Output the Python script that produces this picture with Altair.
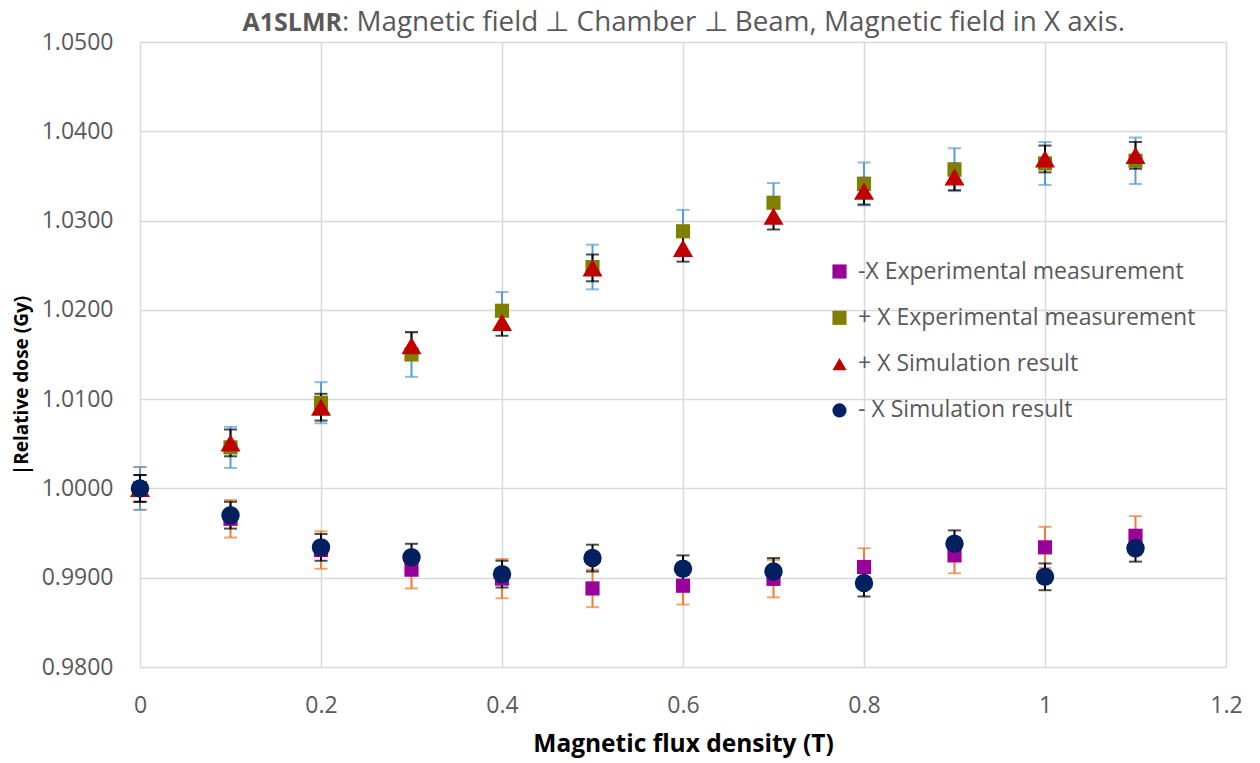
import altair as alt
import pandas as pd

x_vals = [0.0, 0.1, 0.2, 0.3, 0.4, 0.5, 0.6, 0.7, 0.8, 0.9, 1.0, 1.1]

minus_exp = [1.0000, 0.9966, 0.9931, 0.9909, 0.9899, 0.9888, 0.9891, 0.9899, 0.9912, 0.9925, 0.9934, 0.9947]
minus_exp_err = [0.0024, 0.0021, 0.0021, 0.0021, 0.0022, 0.0021, 0.0021, 0.0021, 0.0021, 0.0020, 0.0023, 0.0022]

plus_exp = [1.0000, 1.0046, 1.0096, 1.0150, 1.0199, 1.0248, 1.0288, 1.0320, 1.0341, 1.0357, 1.0364, 1.0367]
plus_exp_err = [0.0024, 0.0023, 0.0023, 0.0025, 0.0021, 0.0025, 0.0024, 0.0022, 0.0024, 0.0024, 0.0024, 0.0026]

plus_sim = [1.0000, 1.0051, 1.0091, 1.0160, 1.0186, 1.0247, 1.0269, 1.0305, 1.0333, 1.0349, 1.0369, 1.0373]
plus_sim_err = [0.0015, 0.0015, 0.0015, 0.0015, 0.0015, 0.0015, 0.0015, 0.0015, 0.0015, 0.0015, 0.0015, 0.0015]

minus_sim = [1.0000, 0.9970, 0.9934, 0.9923, 0.9904, 0.9922, 0.9910, 0.9907, 0.9894, 0.9938, 0.9901, 0.9933]
minus_sim_err = [0.0015, 0.0015, 0.0015, 0.0015, 0.0015, 0.0015, 0.0015, 0.0015, 0.0015, 0.0015, 0.0015, 0.0015]

series_names = [
    "-X Experimental measurement",
    "+ X Experimental measurement",
    "+ X Simulation result",
    "- X Simulation result",
]
marker_colors = ["#990099", "#808000", "#C00000", "#002060"]
marker_shapes = ["square", "square", "triangle-up", "circle"]
marker_sizes = [200, 200, 400, 340]
err_colors = ["#ED7D31", "#5B9BD5", "#000000", "#000000"]

x_ticks = [0, 0.2, 0.4, 0.6, 0.8, 1.0, 1.2]
y_ticks = [0.98, 0.99, 1.0, 1.01, 1.02, 1.03, 1.04, 1.05]

title_bold = ["A1SLMR"]
title_rest = [": Magnetic field \u22a5 Chamber \u22a5 Beam, Magnetic field in X axis."]

all_vals = [minus_exp, plus_exp, plus_sim, minus_sim]
all_errs = [minus_exp_err, plus_exp_err, plus_sim_err, minus_sim_err]

frames = []
for name, vals, errs in zip(series_names, all_vals, all_errs):
    frames.append(pd.DataFrame({
        "x": x_vals,
        "y": vals,
        "lo": [v - e for v, e in zip(vals, errs)],
        "hi": [v + e for v, e in zip(vals, errs)],
        "series": name,
    }))

W, H = 1086, 625
FONT = "Open Sans"

xscale = alt.Scale(domain=[0, 1.2], nice=False)
yscale = alt.Scale(domain=[0.98, 1.05], nice=False, zero=False)

x_axis = alt.Axis(values=x_ticks, format="~g", title="Magnetic flux density (T)")
y_axis = alt.Axis(values=y_ticks, format=".4f", title="|Relative dose (Gy)", titleY=343)

layers = []
# error bars
for df, ec in zip(frames, err_colors):
    base = alt.Chart(df)
    rule = base.mark_rule(color=ec, strokeWidth=2).encode(
        x=alt.X("x:Q", scale=xscale, axis=x_axis),
        y=alt.Y("lo:Q", scale=yscale, axis=y_axis),
        y2="hi:Q",
    )
    cap_lo = base.mark_tick(color=ec, orient="horizontal", size=13, thickness=2).encode(
        x=alt.X("x:Q", scale=xscale, axis=x_axis), y=alt.Y("lo:Q", scale=yscale, axis=y_axis))
    cap_hi = base.mark_tick(color=ec, orient="horizontal", size=13, thickness=2).encode(
        x=alt.X("x:Q", scale=xscale, axis=x_axis), y=alt.Y("hi:Q", scale=yscale, axis=y_axis))
    layers += [rule, cap_lo, cap_hi]

color_scale = alt.Scale(domain=series_names, range=marker_colors)
shape_scale = alt.Scale(domain=series_names, range=marker_shapes)

legend = alt.Legend(
    title=None, orient="none", legendX=688, legendY=218,
    labelFontSize=23, labelColor="#595959", labelFont=FONT, labelLimit=0,
    symbolSize=200, symbolStrokeWidth=0, rowPadding=22.3, labelOffset=7,
)

for df, sz in zip(frames, marker_sizes):
    pts = alt.Chart(df).mark_point(filled=True, opacity=1, size=sz, strokeWidth=0).encode(
        x=alt.X("x:Q", scale=xscale, axis=x_axis),
        y=alt.Y("y:Q", scale=yscale, axis=y_axis),
        color=alt.Color("series:N", scale=color_scale, legend=legend),
        shape=alt.Shape("series:N", scale=shape_scale, legend=legend),
    )
    layers.append(pts)

t1 = alt.Chart(pd.DataFrame({"t": title_bold})).mark_text(
    align="right", baseline="middle", fontSize=25, fontWeight="bold",
    color="#595959", font=FONT,
).encode(text="t:N", x=alt.value(202), y=alt.value(-19))
t2 = alt.Chart(pd.DataFrame({"t": title_rest})).mark_text(
    align="left", baseline="middle", fontSize=27.8, fontWeight="normal",
    color="#595959", font=FONT,
).encode(text="t:N", x=alt.value(202), y=alt.value(-19))
layers += [t1, t2]

chart = alt.layer(*layers).properties(
    width=W, height=H,
    autosize=alt.AutoSizeParams(type="none"),
    padding={"left": 140, "top": 42, "right": 34, "bottom": 96},
).configure_view(stroke=None).configure_axis(
    labelFont=FONT, titleFont=FONT,
    labelFontSize=23, labelColor="#595959",
    titleFontWeight="bold", titleColor="#000000",
    grid=True, gridColor="#D9D9D9", gridWidth=1.5,
    domain=False, ticks=False, labelOverlap=False,
).configure_axisX(
    labelFlush=False, labelPadding=27, titleFontSize=24.5, titlePadding=15,
).configure_axisY(
    labelPadding=27, titleFontSize=19, titlePadding=10,
)

chart.save("out.html", embed_options={"renderer": "svg", "actions": False})
